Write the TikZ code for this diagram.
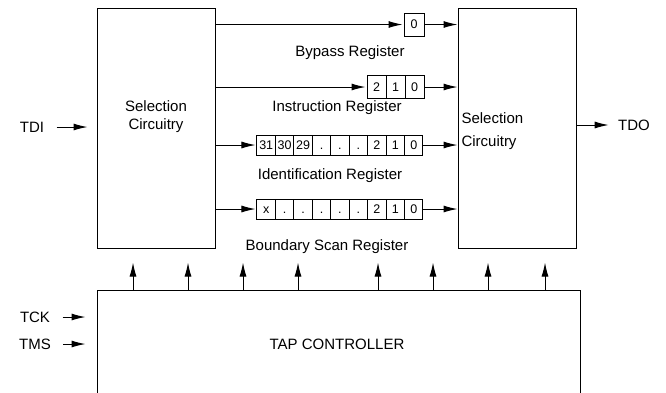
\documentclass[tikz,border=0pt]{standalone}
\usepackage{fontspec}
\setmainfont{Liberation Sans}
\usetikzlibrary{arrows.meta,calc}
\begin{document}
\begin{tikzpicture}[x=1pt,y=-1pt,
  line width=1pt,
  arr/.style={-{Latex[length=14pt,width=7pt]}},
  bigbox/.style={draw,minimum width=118pt,minimum height=240pt,inner sep=0pt},
  cell/.style={draw,minimum width=#1,minimum height=20pt,inner sep=0pt,text height=8.5pt,text depth=0pt,font=\fontsize{12.5}{13}\selectfont},
  lbl/.style={font=\fontsize{15}{17}\selectfont,inner sep=0pt},
  reglbl/.style={font=\fontsize{15}{17}\selectfont,inner sep=0pt}
]
\clip (0,0) rectangle (666,392);
% big boxes
\node[bigbox] (sel1) at (156,128) {};
\node[bigbox] (sel2) at (517,128) {};
\node[draw,minimum width=483pt,minimum height=120pt,inner sep=0pt] (tap) at (338.5,350) {};
\node[lbl,align=center] (sel1t) at (156,117) {Selection\\[1pt]Circuitry};
\node[lbl,align=left,anchor=north west] (sel2t) at (461,112) {Selection\\[6pt]Circuitry};
\node[lbl] (taptxt) at (337,344) {TAP CONTROLLER};
% inputs/outputs
\node[lbl] (tdi) at (32,127) {TDI};
\node[lbl] (tdo) at (634,125) {TDO};
\node[lbl] (tck) at (35,317) {TCK};
\node[lbl] (tms) at (35,344) {TMS};
\draw[arr] ([xshift=12pt]tdi.east) -- ([xshift=-9pt]tdi -| sel1.west);
\draw[arr] (tdo -| sel2.east) -- ([xshift=-9pt]tdo.west);
\draw[arr] ([xshift=12pt]tck.east) -- ([xshift=-11pt]tck -| tap.west);
\draw[arr] ([xshift=12pt]tms.east) -- ([xshift=-11pt]tms -| tap.west);
% bypass register
\node[cell=20pt,minimum height=23pt] (b0) at (414,24.5) {0};
\draw[arr] (b0 -| sel1.east) -- ([xshift=-1pt]b0.west);
\draw[arr] (b0.east) -- (b0 -| sel2.west);
\node[reglbl] (blbl) at (350,53) {Bypass Register};
% instruction register
\foreach \t [count=\i from 0] in {2,1,0} {
  \node[cell=19pt,minimum height=23pt] (i\i) at (376.5+19*\i,87) {\t};
}
\draw[arr] (i0 -| sel1.east) -- ([xshift=-1pt]i0.west);
\draw[arr] (i2.east) -- (i2 -| sel2.west);
\node[reglbl] (ilbl) at (337,108) {Instruction Register};
% identification register
\foreach \t [count=\i from 0] in {31,30,29,.,.,.,2,1,0} {
  \node[cell=18.44pt] (d\i) at (266.2+18.44*\i,145) {\t};
}
\draw[arr] (d0 -| sel1.east) -- ([xshift=-1pt]d0.west);
\draw[arr] (d8.east) -- (d8 -| sel2.west);
\node[reglbl] (dlbl) at (330,176) {Identification Register};
% boundary scan register
\foreach \t [count=\i from 0] in {x,.,.,.,.,.,2,1,0} {
  \node[cell=18.44pt] (s\i) at (266.2+18.44*\i,209) {\t};
}
\draw[arr] (s0 -| sel1.east) -- ([xshift=-1pt]s0.west);
\draw[arr] (s8.east) -- (s8 -| sel2.west);
\node[reglbl] (slbl) at (327,247) {Boundary Scan Register};
% control arrows
\foreach \xx in {133,188,243,298,378,433,488,545} {
  \draw[arr] (tap.north -| {\xx,0}) -- ++(0,-27);
}
\end{tikzpicture}
\end{document}
